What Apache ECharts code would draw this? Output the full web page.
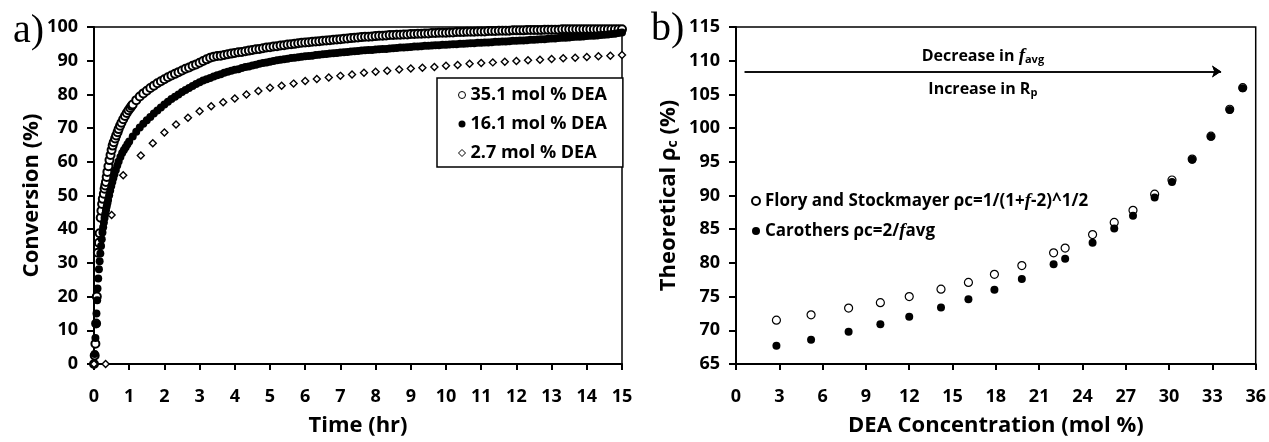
<!DOCTYPE html>
<html>
<head>
<meta charset="UTF-8">
<title>Conversion and theoretical gel point</title>
<script src="https://cdn.jsdelivr.net/npm/echarts@6/dist/echarts.min.js"></script>
<style>
  html, body { margin: 0; padding: 0; background: #fff; }
  #chart { width: 1269px; height: 442px; }
</style>
</head>
<body>
<div id="chart"></div>
<script type="text/javascript">
    // panel a) conversion vs time, [time (hr), conversion (%)]
    var dea351 = [
        [0, 0], [0.02, 2.5], [0.04, 6], [0.06, 12], [0.08, 20], [0.11, 33], [0.14, 36], [0.16, 38.8],
        [0.19, 43.4], [0.21, 45.5], [0.23, 47.5], [0.25, 49], [0.28, 50.5], [0.3, 52], [0.32, 53],
        [0.34, 54], [0.36, 55.5], [0.38, 57], [0.41, 58.7], [0.44, 60.5], [0.47, 62], [0.5, 63.5],
        [0.53, 64.8], [0.56, 65.8], [0.6, 66.9], [0.63, 67.8], [0.67, 68.8], [0.7, 69.7], [0.74, 70.7],
        [0.78, 71.6], [0.83, 72.6], [0.88, 73.6], [0.93, 74.5], [0.98, 75.3], [1.03, 76], [1.07, 76.6],
        [1.1, 77], [1.2, 78.3], [1.3, 79.4], [1.4, 80.3], [1.5, 81.1], [1.6, 81.9], [1.7, 82.6],
        [1.8, 83.3], [1.9, 83.9], [2, 84.5], [2.1, 85.1], [2.2, 85.6], [2.3, 86.1], [2.4, 86.6],
        [2.5, 87.1], [2.6, 87.6], [2.7, 88], [2.8, 88.5], [2.9, 88.9], [3, 89.4], [3.1, 89.9],
        [3.2, 90.4], [3.3, 90.9], [3.4, 91.2], [3.5, 91.4], [3.6, 91.5], [3.7, 91.7], [3.8, 91.9],
        [3.9, 92.1], [4, 92.3], [4.1, 92.5], [4.2, 92.6], [4.3, 92.8], [4.4, 93], [4.5, 93.2],
        [4.6, 93.4], [4.7, 93.5], [4.8, 93.7], [4.9, 93.9], [5, 94], [5.1, 94.2], [5.2, 94.3],
        [5.3, 94.5], [5.4, 94.6], [5.5, 94.8], [5.6, 94.9], [5.7, 95], [5.8, 95.2], [5.9, 95.3],
        [6, 95.4], [6.1, 95.5], [6.2, 95.6], [6.3, 95.7], [6.4, 95.8], [6.5, 95.9], [6.6, 96],
        [6.7, 96.1], [6.8, 96.2], [6.9, 96.3], [7, 96.4], [7.1, 96.5], [7.2, 96.6], [7.3, 96.7],
        [7.4, 96.8], [7.5, 96.9], [7.6, 97], [7.7, 97.1], [7.8, 97.1], [7.9, 97.2], [8, 97.3],
        [8.1, 97.4], [8.2, 97.4], [8.3, 97.5], [8.4, 97.6], [8.5, 97.6], [8.6, 97.7], [8.7, 97.7],
        [8.8, 97.8], [8.9, 97.8], [9, 97.9], [9.1, 97.9], [9.2, 98], [9.3, 98], [9.4, 98.1],
        [9.5, 98.1], [9.6, 98.2], [9.7, 98.2], [9.8, 98.3], [9.9, 98.3], [10, 98.3], [10.1, 98.4],
        [10.2, 98.4], [10.3, 98.5], [10.4, 98.5], [10.5, 98.5], [10.6, 98.6], [10.7, 98.6],
        [10.8, 98.6], [10.9, 98.7], [11, 98.7], [11.1, 98.7], [11.2, 98.8], [11.3, 98.8],
        [11.4, 98.8], [11.5, 98.9], [11.6, 98.9], [11.7, 98.9], [11.8, 98.9], [11.9, 99],
        [12, 99], [12.1, 99], [12.2, 99], [12.3, 99.1], [12.4, 99.1], [12.5, 99.1], [12.6, 99.1],
        [12.7, 99.1], [12.8, 99.2], [12.9, 99.2], [13, 99.2], [13.1, 99.2], [13.2, 99.2],
        [13.3, 99.3], [13.4, 99.3], [13.5, 99.3], [13.6, 99.3], [13.7, 99.3], [13.8, 99.3],
        [13.9, 99.3], [14, 99.3], [14.1, 99.3], [14.2, 99.3], [14.3, 99.3], [14.4, 99.3],
        [14.5, 99.3], [14.6, 99.3], [14.7, 99.3], [14.8, 99.3], [14.9, 99.3], [15, 99.3]
    ];
    var dea161 = [
        [0, 0], [0.02, 3], [0.04, 7.7], [0.06, 11.9], [0.07, 15], [0.09, 18.9], [0.1, 22.4],
        [0.12, 25.4], [0.14, 28.1], [0.16, 30.5], [0.18, 32.8], [0.2, 35], [0.22, 37], [0.24, 39],
        [0.26, 40.6], [0.28, 42], [0.3, 43.3], [0.32, 44.5], [0.34, 45.6], [0.36, 46.7], [0.38, 47.7],
        [0.4, 48.7], [0.43, 50.1], [0.46, 51.5], [0.49, 52.8], [0.52, 54], [0.55, 55.2], [0.58, 56.3],
        [0.62, 57.6], [0.66, 58.9], [0.7, 60.1], [0.75, 61.4], [0.8, 62.6], [0.85, 63.5], [0.9, 64.3],
        [0.95, 65.2], [1, 66], [1.1, 67.5], [1.2, 68.9], [1.3, 70.2], [1.4, 71.3], [1.5, 72.3],
        [1.6, 73.3], [1.7, 74.3], [1.8, 75.2], [1.9, 76.1], [2, 77], [2.1, 77.8], [2.2, 78.6],
        [2.3, 79.3], [2.4, 80], [2.5, 80.7], [2.6, 81.3], [2.7, 81.9], [2.8, 82.5], [2.9, 83.1],
        [3, 83.6], [3.1, 84.1], [3.2, 84.5], [3.3, 84.9], [3.4, 85.3], [3.5, 85.7], [3.6, 86],
        [3.7, 86.4], [3.8, 86.7], [3.9, 87], [4, 87.3], [4.1, 87.5], [4.2, 87.8], [4.3, 88.1],
        [4.4, 88.3], [4.5, 88.6], [4.6, 88.8], [4.7, 89.1], [4.8, 89.3], [4.9, 89.5], [5, 89.7],
        [5.1, 89.9], [5.2, 90.1], [5.3, 90.3], [5.4, 90.4], [5.5, 90.6], [5.6, 90.8], [5.7, 90.9],
        [5.8, 91], [5.9, 91.2], [6, 91.3], [6.1, 91.4], [6.2, 91.5], [6.3, 91.7], [6.4, 91.8],
        [6.5, 91.9], [6.6, 92], [6.7, 92.1], [6.8, 92.2], [6.9, 92.3], [7, 92.4], [7.1, 92.5],
        [7.2, 92.6], [7.3, 92.7], [7.4, 92.8], [7.5, 92.9], [7.6, 93], [7.7, 93.1], [7.8, 93.2],
        [7.9, 93.2], [8, 93.3], [8.1, 93.4], [8.2, 93.5], [8.3, 93.5], [8.4, 93.6], [8.5, 93.7],
        [8.6, 93.8], [8.7, 93.9], [8.8, 93.9], [8.9, 94], [9, 94.1], [9.1, 94.2], [9.2, 94.2],
        [9.3, 94.3], [9.4, 94.4], [9.5, 94.4], [9.6, 94.5], [9.7, 94.6], [9.8, 94.6], [9.9, 94.7],
        [10, 94.7], [10.1, 94.8], [10.2, 94.9], [10.3, 94.9], [10.4, 95], [10.5, 95], [10.6, 95.1],
        [10.7, 95.2], [10.8, 95.2], [10.9, 95.3], [11, 95.3], [11.1, 95.4], [11.2, 95.4],
        [11.3, 95.5], [11.4, 95.6], [11.5, 95.6], [11.6, 95.7], [11.7, 95.7], [11.8, 95.8],
        [11.9, 95.9], [12, 95.9], [12.1, 96], [12.2, 96], [12.3, 96.1], [12.4, 96.2], [12.5, 96.2],
        [12.6, 96.3], [12.7, 96.4], [12.8, 96.4], [12.9, 96.5], [13, 96.6], [13.1, 96.6],
        [13.2, 96.7], [13.3, 96.8], [13.4, 96.8], [13.5, 96.9], [13.6, 97], [13.7, 97.1],
        [13.8, 97.1], [13.9, 97.2], [14, 97.3], [14.1, 97.4], [14.2, 97.4], [14.3, 97.5],
        [14.4, 97.6], [14.5, 97.7], [14.6, 97.8], [14.7, 97.9], [14.8, 98], [14.9, 98.2], [15, 98.4]
    ];
    var dea27 = [
        [0, 0], [0.33, 0], [0.5, 44.2], [0.83, 56], [1.33, 61.9], [1.67, 65.5], [2, 68.7],
        [2.33, 71.1], [2.67, 73.1], [3, 75], [3.33, 76.5], [3.67, 77.7], [4, 78.8], [4.33, 80],
        [4.67, 81], [5, 82], [5.33, 82.6], [5.67, 83.2], [6, 84], [6.33, 84.6], [6.67, 85],
        [7, 85.5], [7.33, 85.9], [7.67, 86.4], [8, 86.7], [8.33, 87], [8.67, 87.4], [9, 87.7],
        [9.33, 87.9], [9.67, 88.1], [10, 88.5], [10.33, 88.7], [10.67, 89.1], [11, 89.3],
        [11.33, 89.5], [11.67, 89.7], [12, 89.9], [12.33, 90.1], [12.67, 90.3], [13, 90.5],
        [13.33, 90.7], [13.67, 90.9], [14, 91.1], [14.33, 91.3], [14.67, 91.5], [15, 91.7]
    ];

    // panel b) theoretical gel point vs DEA concentration
    var deaConc = [2.8, 5.2, 7.8, 10.0, 12.0, 14.2, 16.1, 17.9, 19.8, 22.0, 22.8, 24.7, 26.2, 27.5, 29.0, 30.2, 31.6, 32.9, 34.2, 35.1];
    var floryRho = [71.5, 72.3, 73.3, 74.1, 75.0, 76.1, 77.1, 78.3, 79.6, 81.5, 82.2, 84.2, 86.0, 87.8, 90.2, 92.3, 95.4, 98.8, 102.8, 106.0];
    var carothersRho = [67.7, 68.6, 69.8, 70.9, 72.0, 73.4, 74.6, 76.0, 77.6, 79.8, 80.6, 83.0, 85.1, 87.0, 89.7, 92.0, 95.3, 98.7, 102.7, 105.9];

    // arrow annotation in panel b)
    var arrowX = [0.6, 33.6];
    var arrowY = 108.4;

    var leftTicksX = [0, 15, 1];
    var leftTicksY = [0, 100, 10];
    var rightTicksX = [0, 36, 3];
    var rightTicksY = [65, 115, 5];

    var font = 'Open Sans';
    var floryName = 'Flory and Stockmayer ρc=1/(1+f-2)^1/2';
    var carothersName = 'Carothers ρc=2/favg';

    function pairs(xs, ys) {
        var out = [];
        for (var i = 0; i < xs.length; i++) {
            out.push([xs[i], ys[i]]);
        }
        return out;
    }

    function axisX(ticks, grid, name) {
        return {
            type: 'value', gridIndex: grid, min: ticks[0], max: ticks[1], interval: ticks[2],
            name: name, nameLocation: 'middle', nameGap: 51,
            nameTextStyle: {fontFamily: font, fontWeight: 'bold', fontSize: 22, color: '#000'},
            axisLine: {onZero: false, lineStyle: {color: '#000', width: 2}},
            axisTick: {show: true, inside: false, length: 6, lineStyle: {color: '#000', width: 2}},
            axisLabel: {margin: 24, fontFamily: font, fontWeight: 'bold', fontSize: 18, color: '#000'},
            splitLine: {show: false}
        };
    }

    function axisY(ticks, grid, name, gap) {
        return {
            type: 'value', gridIndex: grid, min: ticks[0], max: ticks[1], interval: ticks[2],
            name: name, nameLocation: 'middle', nameGap: gap,
            nameTextStyle: {
                fontFamily: font, fontWeight: 'bold', fontSize: 22, color: '#000',
                rich: {sub: {fontFamily: font, fontWeight: 'bold', fontSize: 14, color: '#000', padding: [9, 0, 0, 0]}}
            },
            axisLine: {onZero: false, lineStyle: {color: '#000', width: 2}},
            axisTick: {show: true, inside: false, length: 7, lineStyle: {color: '#000', width: 2}},
            axisLabel: {margin: 16, fontFamily: font, fontWeight: 'bold', fontSize: 18, color: '#000'},
            splitLine: {show: false}
        };
    }

    var option = {
        animation: false,
        backgroundColor: '#fff',
        title: [
            {text: 'a)', left: 8, top: 6, textStyle: {fontFamily: 'Liberation Serif', fontWeight: 'normal', fontSize: 40, color: '#000'}},
            {text: 'b)', left: 646, top: 4, textStyle: {fontFamily: 'Liberation Serif', fontWeight: 'normal', fontSize: 40, color: '#000'}}
        ],
        grid: [
            {left: 94, top: 27, width: 528, height: 340, show: true, borderColor: '#000', borderWidth: 1.5},
            {left: 736, top: 27, width: 521, height: 339, show: true, borderColor: '#000', borderWidth: 1.5}
        ],
        legend: [
            {
                data: ['35.1 mol % DEA', '16.1 mol % DEA', '2.7 mol % DEA'],
                orient: 'vertical', left: 437, top: 78,
                padding: [7, 16, 4, 21], itemGap: 9, itemWidth: 7, itemHeight: 7,
                itemStyle: {borderWidth: 1},
                borderColor: '#000', borderWidth: 1.5, backgroundColor: '#fff',
                textStyle: {fontFamily: font, fontWeight: 'bold', fontSize: 18, color: '#000', lineHeight: 20}
            },
            {
                data: [floryName, carothersName],
                orient: 'vertical', left: 746, top: 186,
                itemGap: 10, itemWidth: 8, itemHeight: 8,
                formatter: function (name) {
                    if (name === floryName) {
                        return 'Flory and Stockmayer ρc=1/(1+{i|f}-2)^1/2';
                    }
                    return 'Carothers ρc=2/{i|f}avg';
                },
                textStyle: {
                    fontFamily: font, fontWeight: 'bold', fontSize: 17, color: '#000', lineHeight: 20,
                    rich: {i: {fontFamily: 'Liberation Serif', fontStyle: 'italic', fontWeight: 'bold', fontSize: 19, color: '#000'}}
                }
            }
        ],
        xAxis: [
            axisX(leftTicksX, 0, 'Time (hr)'),
            axisX(rightTicksX, 1, 'DEA Concentration (mol %)')
        ],
        yAxis: [
            axisY(leftTicksY, 0, 'Conversion (%)', 50),
            axisY(rightTicksY, 1, 'Theoretical ρ{sub|c} (%)', 56)
        ],
        series: [
            {
                name: '35.1 mol % DEA', type: 'scatter', xAxisIndex: 0, yAxisIndex: 0,
                symbol: 'circle', symbolSize: 8,
                itemStyle: {color: '#fff', borderColor: '#000', borderWidth: 2, opacity: 1},
                data: dea351
            },
            {
                name: '16.1 mol % DEA', type: 'scatter', xAxisIndex: 0, yAxisIndex: 0,
                symbol: 'circle', symbolSize: 8,
                itemStyle: {color: '#000', opacity: 1},
                data: dea161
            },
            {
                name: '2.7 mol % DEA', type: 'scatter', xAxisIndex: 0, yAxisIndex: 0,
                symbol: 'diamond', symbolSize: 7,
                itemStyle: {color: '#fff', borderColor: '#000', borderWidth: 1.4, opacity: 1},
                data: dea27
            },
            {
                name: floryName, type: 'scatter', xAxisIndex: 1, yAxisIndex: 1,
                symbol: 'circle', symbolSize: 8,
                itemStyle: {color: '#fff', borderColor: '#000', borderWidth: 1.2, opacity: 1},
                data: pairs(deaConc, floryRho)
            },
            {
                name: carothersName, type: 'scatter', xAxisIndex: 1, yAxisIndex: 1,
                symbol: 'circle', symbolSize: 8,
                itemStyle: {color: '#000', opacity: 1},
                data: pairs(deaConc, carothersRho),
                markLine: {
                    silent: true, animation: false,
                    symbol: ['none', 'arrow'], symbolSize: 9,
                    lineStyle: {color: '#000', width: 1.5, type: 'solid'},
                    data: [
                        [{coord: [arrowX[0], arrowY],
                          label: {show: true, position: 'insideMiddleTop', distance: 6,
                                  formatter: 'Decrease in {i|f}{s|avg}',
                                  fontFamily: font, fontWeight: 'bold', fontSize: 16, color: '#000',
                                  rich: {
                                      i: {fontFamily: 'Liberation Serif', fontStyle: 'italic', fontWeight: 'bold', fontSize: 19, color: '#000'},
                                      s: {fontFamily: font, fontWeight: 'bold', fontSize: 11, color: '#000', padding: [8, 0, 0, 0]}
                                  }}},
                         {coord: [arrowX[1], arrowY]}],
                        [{coord: [arrowX[0], arrowY],
                          label: {show: true, position: 'insideMiddleBottom', distance: 8,
                                  formatter: 'Increase in R{s|p}',
                                  fontFamily: font, fontWeight: 'bold', fontSize: 16, color: '#000',
                                  rich: {
                                      s: {fontFamily: font, fontWeight: 'bold', fontSize: 11, color: '#000', padding: [8, 0, 0, 0]}
                                  }}},
                         {coord: [arrowX[1], arrowY]}]
                    ]
                }
            }
        ]
    };

    var myChart = echarts.init(document.getElementById('chart'));
    myChart.setOption(option);
</script>
</body>
</html>
